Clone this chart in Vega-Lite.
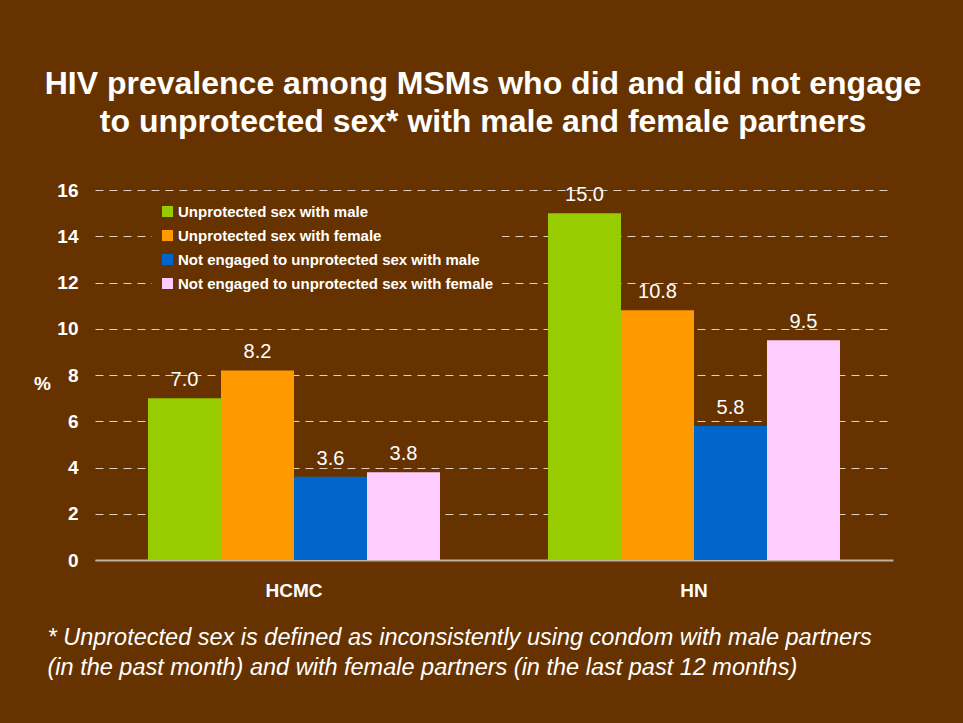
{
  "$schema": "https://vega.github.io/schema/vega-lite/v6.json",
  "autosize": {"type": "none"},
  "padding": {"left": 95, "top": 190, "right": 70, "bottom": 163},
  "width": 798,
  "height": 370,
  "background": "#663300",
  "title": {
    "text": ["HIV prevalence among MSMs who did and did not engage", "to unprotected sex* with male and female partners"],
    "font": "Liberation Sans",
    "fontSize": 32,
    "fontWeight": "bold",
    "color": "white",
    "anchor": "middle",
    "dx": -11,
    "offset": 42,
    "lineHeight": 38
  },
  "data": {
    "values": [
      {"city": "HCMC", "group": "Unprotected sex with male", "value": 7.0},
      {"city": "HCMC", "group": "Unprotected sex with female", "value": 8.2},
      {"city": "HCMC", "group": "Not engaged to unprotected sex with male", "value": 3.6},
      {"city": "HCMC", "group": "Not engaged to unprotected sex with female", "value": 3.8},
      {"city": "HN", "group": "Unprotected sex with male", "value": 15.0},
      {"city": "HN", "group": "Unprotected sex with female", "value": 10.8},
      {"city": "HN", "group": "Not engaged to unprotected sex with male", "value": 5.8},
      {"city": "HN", "group": "Not engaged to unprotected sex with female", "value": 9.5}
    ]
  },
  "encoding": {
    "x": {
      "field": "city",
      "type": "nominal",
      "sort": ["HCMC", "HN"],
      "scale": {"paddingInner": 0.27, "paddingOuter": 0.1325},
      "axis": {
        "title": ["* Unprotected sex is defined as inconsistently using condom with male partners", "(in the past month) and with female partners (in the last past 12 months)"],
        "titleFont": "Liberation Sans",
        "titleFontSize": 23.5,
        "titleFontStyle": "italic",
        "titleFontWeight": "normal",
        "titleColor": "white",
        "titleAnchor": "start",
        "titleAlign": "left",
        "titleBaseline": "top",
        "titleX": -48,
        "titleY": 65,
        "titleLineHeight": 30,
        "labelAngle": 0,
        "labelFont": "Liberation Sans",
        "labelFontSize": 19,
        "labelFontWeight": "bold",
        "labelColor": "white",
        "labelPadding": 21,
        "ticks": false,
        "domainColor": "#c0b0a0",
        "domainWidth": 2
      }
    },
    "xOffset": {
      "field": "group",
      "type": "nominal",
      "sort": ["Unprotected sex with male", "Unprotected sex with female", "Not engaged to unprotected sex with male", "Not engaged to unprotected sex with female"],
      "scale": {"paddingInner": 0, "paddingOuter": 0}
    },
    "y": {
      "field": "value",
      "type": "quantitative",
      "scale": {"domain": [0, 16], "nice": false},
      "axis": {
        "values": [0, 2, 4, 6, 8, 10, 12, 14, 16],
        "title": "%",
        "titleAngle": 0,
        "titleFont": "Liberation Sans",
        "titleFontSize": 19,
        "titleFontWeight": "bold",
        "titleColor": "white",
        "titleAlign": "center",
        "titleBaseline": "middle",
        "titleX": -53,
        "titleY": 193,
        "labelFont": "Liberation Sans",
        "labelFontSize": 19,
        "labelFontWeight": "bold",
        "labelColor": "white",
        "labelPadding": 17,
        "ticks": false,
        "domain": false,
        "grid": true,
        "gridColor": "#ddd0c2",
        "gridDash": [8, 6],
        "gridWidth": 1
      }
    }
  },
  "layer": [
    {
      "mark": {"type": "bar"},
      "encoding": {
        "color": {
          "field": "group",
          "type": "nominal",
          "sort": ["Unprotected sex with male", "Unprotected sex with female", "Not engaged to unprotected sex with male", "Not engaged to unprotected sex with female"],
          "scale": {"range": ["#99CC00", "#FF9900", "#0066CC", "#FFCCFF"]},
          "legend": {
            "title": null,
            "orient": "none",
            "legendX": 57,
            "legendY": 6,
            "padding": 8,
            "fillColor": "#663300",
            "symbolType": "square",
            "symbolSize": 121,
            "symbolStrokeWidth": 0,
            "labelFont": "Liberation Sans",
            "labelFontSize": 15,
            "labelFontWeight": "bold",
            "labelColor": "white",
            "labelOffset": 3,
            "labelLimit": 400,
            "rowPadding": 8
          }
        }
      }
    },
    {
      "mark": {"type": "text", "baseline": "bottom", "dy": -8, "font": "Liberation Sans", "fontSize": 20, "color": "white"},
      "encoding": {
        "text": {"field": "value", "type": "quantitative", "format": ".1f"}
      }
    }
  ],
  "config": {
    "view": {"stroke": null}
  }
}
